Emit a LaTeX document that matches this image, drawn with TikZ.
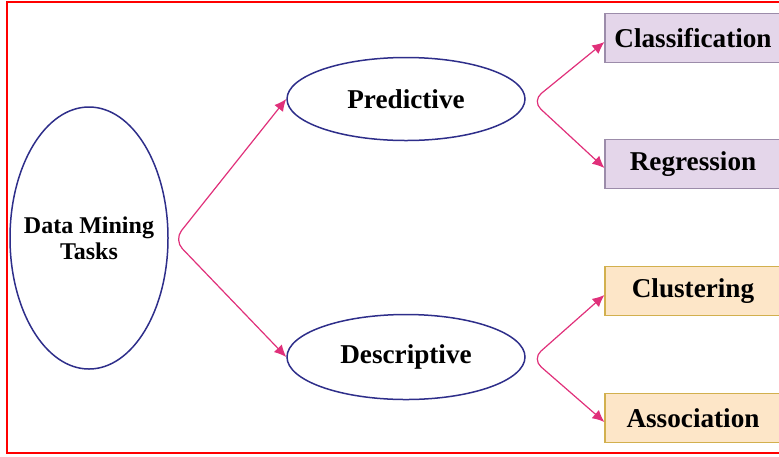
\documentclass[tikz,border=0pt]{standalone}
\usepackage{fontspec}
\setmainfont{Liberation Serif}
\usepackage{xcolor}
\usepackage{tikz}
\usetikzlibrary{shapes, arrows.meta, positioning}

\definecolor{Navy}{HTML}{2E2E8A}
\definecolor{Pink}{HTML}{E0307A}
\definecolor{Lilac}{HTML}{E4D6EA}
\definecolor{LilacLine}{HTML}{9C8CAA}
\definecolor{Peach}{HTML}{FDE6C8}
\definecolor{PeachLine}{HTML}{D2B04E}

\begin{document}
\begin{tikzpicture}
  [
    x=0.5pt, y=-0.5pt,
    Oval/.style={ellipse, draw=Navy, line width=0.75pt, inner sep=0pt,
      font=\bfseries\fontsize{13.6}{16}\selectfont},
    Purple/.style={rectangle, draw=LilacLine, fill=Lilac, line width=0.6pt,
      minimum width=88pt, minimum height=24.5pt,
      font=\bfseries\fontsize{13.6}{16}\selectfont},
    Orange/.style={rectangle, draw=PeachLine, fill=Peach, line width=0.6pt,
      minimum width=88pt, minimum height=24.5pt,
      font=\bfseries\fontsize{13.6}{16}\selectfont},
    Link/.style={{Latex[length=6pt, width=5.5pt]}-{Latex[length=6pt, width=5.5pt]},
      draw=Pink, line width=0.6pt, rounded corners=6pt}
  ]
  \useasboundingbox (0,0) rectangle (779,456);
  \clip (0,0) rectangle (779,456);
  % Frame
  \draw[red, line width=1.3pt] (7,2) rectangle (800,453);
  % Nodes
  \node[Oval, minimum width=79pt, minimum height=131pt, inner xsep=-5pt, align=center,
    font=\bfseries\fontsize{12}{12.8}\selectfont] (tasks) at(89, 238) {Data Mining\\Tasks};
  \node[Oval, minimum width=119pt, minimum height=41.5pt] (pred) at(406, 99) {Predictive};
  \node[Oval, minimum width=119pt, minimum height=42.5pt] (desc) at(406, 357) {Descriptive};
  \node[Purple] (class) at(693, 38) {Classification};
  \node[Purple] (regr) at(693, 164) {Regression};
  \node[Orange] (clust) at(693, 291) {Clustering};
  \node[Orange] (assoc) at(693, 418) {Association};
  % Split points
  \coordinate (s0) at(174, 240);
  \coordinate (s1) at(532, 101);
  \coordinate (s2) at(532, 359);
  % Lines
  \path [Link] (pred.west) -- (s0) -- (desc.west);
  \path [Link] ([yshift=-2pt]class.west) -- (s1) -- ([yshift=-2pt]regr.west);
  \path [Link] ([yshift=-2pt]clust.west) -- (s2) -- ([yshift=-2pt]assoc.west);
\end{tikzpicture}
\end{document}
